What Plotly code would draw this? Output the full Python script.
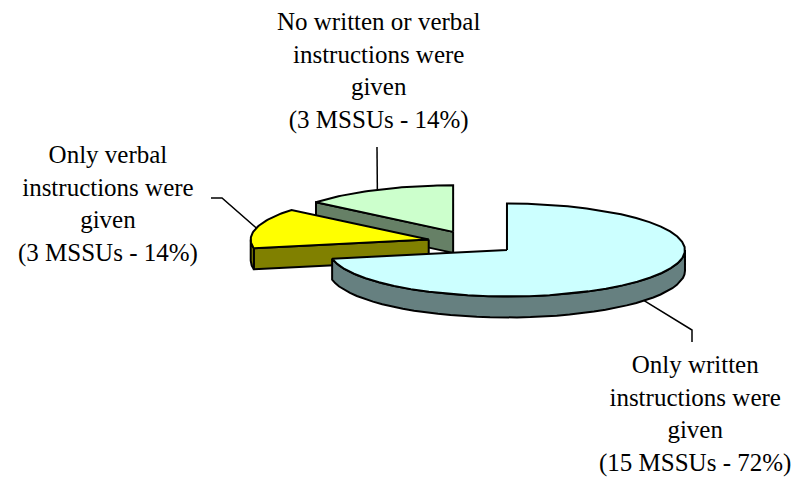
import numpy as np
import plotly.graph_objects as go

# Survey results: how instructions were given to MSSUs
label_lines = [
    ["Only written", "instructions were", "given"],
    ["Only verbal", "instructions were", "given"],
    ["No written or verbal", "instructions were", "given"],
]
mssus = [15, 3, 3]
percents = [72, 14, 14]
top_colors = ["#CCFFFF", "#FFFF00", "#CCFFCC"]
side_colors = ["#668080", "#808000", "#668066"]

# Tilted-pie geometry (screen units, y grows downward)
CX, CY = 472.3, 242.5
RX, RY = 178.0, 46.5
DEPTH = 21.0
PULL = 45.0

SERIF = "Liberation Serif"


def rim(cx, cy, th, dy=0.0):
    r = np.radians(th)
    return cx + RX * np.sin(r), cy - RY * np.cos(r) + dy


def arc(cx, cy, a0, a1, dy=0.0, n=40):
    th = np.linspace(a0, a1, n)
    r = np.radians(th)
    return list(cx + RX * np.sin(r)), list(cy - RY * np.cos(r) + dy)


def poly(xs, ys, color):
    return go.Scatter(
        x=xs + [xs[0]], y=ys + [ys[0]], mode="lines", fill="toself",
        fillcolor=color, line=dict(color="#000000", width=2),
    )


slices = []
start = 0.0
for i, p in enumerate(percents):
    a0, a1 = start, start + p * 3.6
    mid = (a0 + a1) / 2
    rm = np.radians(mid)
    cx = CX + PULL * np.sin(rm)
    cy = CY - PULL * (RY / RX) * np.cos(rm)
    slices.append(dict(i=i, a0=a0, a1=a1, mid=mid, cx=cx, cy=cy))
    start = a1

fig = go.Figure()

# paint from back to front
for s in sorted(slices, key=lambda s: s["cy"]):
    i, a0, a1, cx, cy = s["i"], s["a0"], s["a1"], s["cx"], s["cy"]
    side = side_colors[i]
    # radial walls facing the viewer
    for a, normal in ((a0, a0 - 90), (a1, a1 + 90)):
        if np.cos(np.radians(normal)) < -1e-6:
            px, py = rim(cx, cy, a)
            fig.add_trace(poly([cx, px, px, cx], [cy, py, py + DEPTH, cy + DEPTH], side))
    # curved front wall
    for lo, hi in ((90, 270), (450, 630)):
        b0, b1 = max(a0, lo), min(a1, hi)
        if b1 > b0:
            tx, ty = arc(cx, cy, b0, b1)
            bx, by = arc(cx, cy, b1, b0, DEPTH)
            fig.add_trace(poly(tx + bx, ty + by, side))
    # top face
    tx, ty = arc(cx, cy, a0, a1)
    fig.add_trace(poly([cx] + tx, [cy] + ty, top_colors[i]))

# leader lines
written, verbal, none_ = slices
lx, ly = rim(written["cx"], written["cy"], written["mid"], DEPTH)
vx, vy = rim(verbal["cx"], verbal["cy"], verbal["mid"])
nx, ny = rim(none_["cx"], none_["cy"], none_["mid"])
leaders = [
    ([lx, 692, 692], [ly, 330, 342]),
    ([vx, 222, 211], [vy, 198, 198]),
    ([nx, 377], [ny, 147]),
]
for xs, ys in leaders:
    fig.add_trace(go.Scatter(x=xs, y=ys, mode="lines",
                             line=dict(color="#000000", width=1.5)))

# slice labels
label_pos = [(695, 414), (108, 204), (378, 71)]
for i, (x, y) in enumerate(label_pos):
    text = "<br>".join(label_lines[i] + [f"({mssus[i]} MSSUs - {percents[i]}%)"])
    fig.add_annotation(x=x, y=y, text=text, showarrow=False, xanchor="center",
                       font=dict(family=SERIF, size=25, color="#000000"))

fig.update_layout(
    template="none",
    width=800, height=481,
    margin=dict(l=0, r=0, t=0, b=0),
    showlegend=False,
    xaxis=dict(range=[0, 800], visible=False),
    yaxis=dict(range=[481, 0], visible=False),
)

fig.write_html("out.html")
